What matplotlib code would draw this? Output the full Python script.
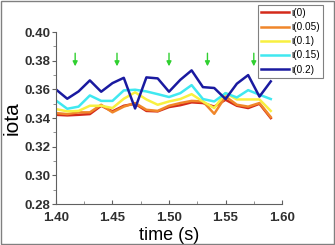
import matplotlib
matplotlib.use('Agg')
import matplotlib.pyplot as plt
from matplotlib.ticker import MultipleLocator, FormatStrFormatter

time = [1.40, 1.41, 1.42, 1.43, 1.44, 1.45, 1.46, 1.47, 1.48, 1.49,
        1.50, 1.51, 1.52, 1.53, 1.54, 1.55, 1.56, 1.57, 1.58, 1.59]

iota_0 = [0.3423, 0.3419, 0.3423, 0.3428, 0.3486, 0.3447, 0.3486, 0.3500, 0.3450, 0.3447,
          0.3477, 0.3490, 0.3510, 0.3505, 0.3480, 0.3528, 0.3486, 0.3470, 0.3500, 0.3400]
iota_005 = [0.3435, 0.3428, 0.3440, 0.3440, 0.3493, 0.3440, 0.3480, 0.3505, 0.3458, 0.3450,
            0.3486, 0.3505, 0.3520, 0.3516, 0.3430, 0.3551, 0.3493, 0.3480, 0.3505, 0.3407]
iota_01 = [0.3463, 0.3447, 0.3450, 0.3486, 0.3486, 0.3470, 0.3535, 0.3580, 0.3530, 0.3493,
           0.3516, 0.3533, 0.3567, 0.3516, 0.3470, 0.3574, 0.3530, 0.3530, 0.3530, 0.3450]
iota_015 = [0.3523, 0.3465, 0.3480, 0.3558, 0.3520, 0.3520, 0.3593, 0.3598, 0.3586, 0.3567,
            0.3547, 0.3574, 0.3630, 0.3533, 0.3516, 0.3574, 0.3544, 0.3595, 0.3563, 0.3533]
iota_02 = [0.3600, 0.3535, 0.3586, 0.3663, 0.3584, 0.3644, 0.3681, 0.3467, 0.3684, 0.3677,
           0.3584, 0.3667, 0.3733, 0.3616, 0.3610, 0.3533, 0.3640, 0.3700, 0.3550, 0.3656]

labels = ['ι(0)', 'ι(0.05)', 'ι(0.1)', 'ι(0.15)', 'ι(0.2)']
colors = ['#d42a1a', '#f0862a', '#f8f040', '#40e8f0', '#1a1aa0']

# green arrows marking events
arrow_t = [1.417, 1.454, 1.500, 1.534, 1.575]
arrow_top = 0.3872
arrow_tip = 0.3742

plt.rcParams['font.family'] = ['Liberation Sans', 'DejaVu Sans']

fig = plt.figure(figsize=(3.35, 2.45), dpi=100)
ax = fig.add_axes([0.167, 0.167, 0.675, 0.702])

series = [iota_0, iota_005, iota_01, iota_015, iota_02]
for vals, lab, col in zip(series, labels, colors):
    ax.plot(time, vals, color=col, lw=1.8, label=lab)

for t in arrow_t:
    ax.annotate('', xy=(t, arrow_tip), xytext=(t, arrow_top),
                arrowprops=dict(arrowstyle='-|>', color='#30d030', lw=1.0,
                                mutation_scale=7))

ax.set_xlim(1.40, 1.60)
ax.set_ylim(0.28, 0.40)
ax.xaxis.set_major_locator(MultipleLocator(0.05))
ax.xaxis.set_minor_locator(MultipleLocator(0.025))
ax.yaxis.set_major_locator(MultipleLocator(0.02))
ax.yaxis.set_minor_locator(MultipleLocator(0.01))
ax.xaxis.set_major_formatter(FormatStrFormatter('%.2f'))
ax.yaxis.set_major_formatter(FormatStrFormatter('%.2f'))
ax.spines['top'].set_visible(False)
ax.spines['right'].set_visible(False)
for s in ['left', 'bottom']:
    ax.spines[s].set_color('#606060')
    ax.spines[s].set_linewidth(0.8)
ax.tick_params(axis='y', direction='out', length=3, color='#606060',
               labelsize=9.5, pad=1)
ax.tick_params(axis='y', which='minor', direction='out', length=2, color='#808080')
ax.tick_params(axis='x', direction='in', length=3, color='#606060',
               labelsize=9.5, pad=5.5)
ax.tick_params(axis='x', which='minor', direction='in', length=2, color='#808080')
for lab in ax.get_xticklabels() + ax.get_yticklabels():
    lab.set_fontweight('bold')
    lab.set_color('#303030')

ax.set_xlabel('time (s)', fontsize=13, labelpad=2)
ax.set_ylabel('iota', fontsize=15, labelpad=2)

leg = fig.legend(loc='upper right', bbox_to_anchor=(0.964, 0.98),
                 fontsize=7.2, handlelength=2.8, handletextpad=0.2,
                 labelspacing=0.42, borderpad=0.3, borderaxespad=0,
                 fancybox=False, frameon=True)
leg.get_frame().set_edgecolor('#606060')
leg.get_frame().set_linewidth(0.8)

# gray border around the whole picture
fig.patches.append(plt.Rectangle((0.003, 0.004), 0.994, 0.992, transform=fig.transFigure,
                                 fill=False, edgecolor='#808080', lw=1.0))

fig.savefig('out.png', dpi=100)
plt.close(fig)
